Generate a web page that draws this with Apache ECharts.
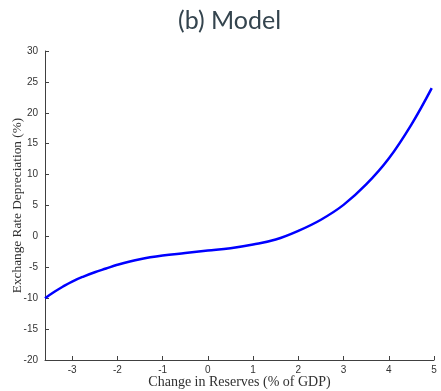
<!DOCTYPE html>
<html>
<head>
<meta charset="utf-8">
<script src="https://cdn.jsdelivr.net/npm/echarts@6/dist/echarts.min.js"></script>
<style>html,body{margin:0;padding:0;background:#fff;}#c{width:441px;height:391px;}</style>
</head>
<body>
<div id="c"></div>
<script>
const reserves = [-3.6, -3.4, -3.2, -3, -2.75, -2.5, -2.25, -2, -1.5, -1, -0.5, 0, 0.5, 1, 1.5, 2, 2.5, 3, 3.5, 4, 4.5, 4.95];
const depreciation = [-10.0, -9.0, -8.1, -7.3, -6.5, -5.8, -5.2, -4.6, -3.7, -3.1, -2.7, -2.3, -1.9, -1.3, -0.5, 0.9, 2.7, 5.1, 8.4, 12.6, 18.1, 24.0];
const xTicks = [-3, -2, -1, 0, 1, 2, 3, 4, 5];
const title = '(b) Model';
const xName = 'Change in Reserves (% of GDP)';
const yName = 'Exchange Rate Depreciation (%)';

const chart = echarts.init(document.getElementById('c'), null, {renderer: 'canvas'});
const axisColor = '#404040';
chart.setOption({
  animation: false,
  title: {
    text: title, left: 173, top: 3,
    textStyle: {fontFamily: 'Lato', fontSize: 25, fontWeight: 'normal', color: '#34444e'}
  },
  grid: {left: 45, right: 7, top: 51, bottom: 31, containLabel: false, outerBoundsMode: 'none'},
  xAxis: {
    type: 'value', min: -3.6, max: 5,
    name: xName, nameLocation: 'middle', nameGap: 15, nameMoveOverlap: false,
    nameTextStyle: {fontFamily: 'Liberation Serif', fontSize: 14, color: '#303030'},
    axisLine: {show: true, onZero: false, lineStyle: {color: axisColor, width: 1}},
    axisTick: {show: true, inside: true, length: 4, customValues: xTicks, lineStyle: {color: axisColor}},
    axisLabel: {customValues: xTicks, fontFamily: 'Liberation Sans', fontSize: 10, color: '#333', margin: 5},
    splitLine: {show: false}
  },
  yAxis: {
    type: 'value', min: -20, max: 30, interval: 5,
    name: yName, nameLocation: 'middle', nameGap: 21, nameMoveOverlap: false,
    nameTextStyle: {fontFamily: 'Liberation Serif', fontSize: 13.3, color: '#303030'},
    axisLine: {show: true, onZero: false, lineStyle: {color: axisColor, width: 1}},
    axisTick: {show: true, inside: true, length: 4, lineStyle: {color: axisColor}},
    axisLabel: {fontFamily: 'Liberation Sans', fontSize: 10, color: '#333', margin: 7},
    splitLine: {show: false}
  },
  series: [{
    type: 'line',
    data: reserves.map((x, i) => [x, depreciation[i]]),
    smooth: 0.4,
    showSymbol: false,
    lineStyle: {color: '#0000ff', width: 2.5}
  }]
});
</script>
</body>
</html>
